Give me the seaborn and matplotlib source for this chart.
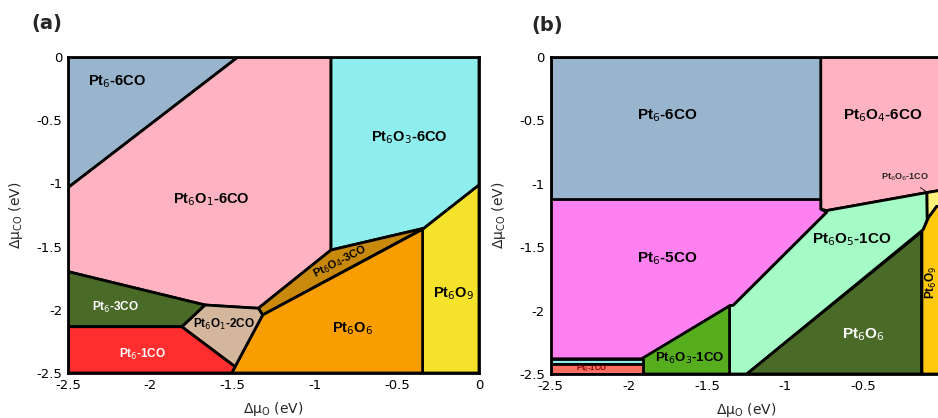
import matplotlib
matplotlib.use("Agg")
import matplotlib.pyplot as plt
import seaborn as sns

sns.set_theme(style="white")
plt.rcParams['font.family'] = ['DejaVu Sans']

# ---------------- data: panel (a) phase regions (x = dmu_O, y = dmu_CO) ----------------
a_names = ["Pt6-6CO", "Pt6O1-6CO", "Pt6O3-6CO", "Pt6O9", "Pt6O4-3CO", "Pt6O6",
           "Pt6O1-2CO", "Pt6-3CO", "Pt6-1CO"]
a_colors = ["#99b4cd", "#ffb3c0", "#8eeeee", "#f4e32a", "#c98a0b", "#f89e00",
            "#d4b69c", "#4a6a28", "#ff2e2e"]
a_polys = [
    [(-2.5, 0), (-1.466, 0), (-2.5, -1.034)],
    [(-1.466, 0), (-0.9, 0), (-0.9, -1.527), (-1.342, -1.988), (-1.667, -1.962), (-2.5, -1.698), (-2.5, -1.034)],
    [(-0.9, 0), (0, 0), (0, -1.013), (-0.335, -1.355), (-0.9, -1.527)],
    [(0, -1.013), (0, -2.5), (-0.343, -2.5), (-0.343, -1.363), (-0.335, -1.355)],
    [(-0.9, -1.527), (-0.335, -1.355), (-1.316, -2.041), (-1.342, -1.988)],
    [(-0.343, -1.363), (-0.343, -2.5), (-1.504, -2.5), (-1.484, -2.45), (-1.316, -2.041)],
    [(-1.667, -1.962), (-1.342, -1.988), (-1.316, -2.041), (-1.484, -2.45), (-1.808, -2.134)],
    [(-2.5, -1.698), (-1.667, -1.962), (-1.808, -2.134), (-2.5, -2.134)],
    [(-2.5, -2.134), (-1.808, -2.134), (-1.484, -2.45), (-1.504, -2.5), (-2.5, -2.5)],
]
a_labels = ["Pt$_6$-6CO", "Pt$_6$O$_1$-6CO", "Pt$_6$O$_3$-6CO", "Pt$_6$O$_9$", "Pt$_6$O$_4$-3CO",
            "Pt$_6$O$_6$", "Pt$_6$O$_1$-2CO", "Pt$_6$-3CO", "Pt$_6$-1CO"]
a_label_xy = [(-2.204, -0.195), (-1.63, -1.131), (-0.424, -0.638), (-0.152, -1.87), (-0.845, -1.62),
              (-0.768, -2.147), (-1.551, -2.112), (-2.214, -1.98), (-2.046, -2.35)]
a_label_size = [10.5, 10.5, 10.5, 10.5, 8, 10.5, 8.5, 8.5, 8.5]
a_label_color = ["black"] * 7 + ["white", "white"]
a_label_rot = [0, 0, 0, 0, 27, 0, 0, 0, 0]

# ---------------- data: panel (b) ----------------
b_names = ["Pt6-6CO", "Pt6O4-6CO", "Pt6-5CO", "Pt6O5-1CO", "Pt6O6-1CO", "Pt6O9", "Pt6O6",
           "Pt6O3-1CO", "strip", "Pt6-1CO"]
b_colors = ["#99b4cd", "#ffb3c0", "#ff80f0", "#a5fbc5", "#fff27a", "#ffc90e", "#4a6a28",
            "#56ae1e", "#8eeeee", "#ff6f61"]
b_polys = [
    [(-2.5, 0), (-0.772, 0), (-0.772, -1.124), (-2.5, -1.124)],
    [(-0.772, 0), (0.05, 0), (0.05, -1.04), (-0.093, -1.069), (-0.734, -1.211), (-0.772, -1.2)],
    [(-2.5, -1.124), (-0.772, -1.124), (-0.772, -1.2), (-0.734, -1.225), (-1.331, -1.958),
     (-1.355, -1.963), (-1.911, -2.38), (-2.5, -2.38)],
    [(-0.734, -1.211), (-0.093, -1.069), (-0.091, -1.281), (-0.116, -1.36), (-1.245, -2.5),
     (-1.355, -2.5), (-1.355, -1.963), (-1.331, -1.958), (-0.734, -1.225)],
    [(-0.093, -1.069), (0.05, -1.04), (0.05, -1.17), (-0.031, -1.179), (-0.084, -1.268), (-0.091, -1.281)],
    [(-0.125, -2.5), (0.05, -2.5), (0.05, -1.17), (-0.031, -1.179), (-0.084, -1.268), (-0.116, -1.36), (-0.125, -1.37)],
    [(-1.245, -2.5), (-0.128, -1.38), (-0.128, -2.5)],
    [(-1.911, -2.375), (-1.355, -1.963), (-1.355, -2.5), (-1.907, -2.5)],
    [(-2.5, -2.38), (-1.911, -2.38), (-1.911, -2.42), (-2.5, -2.42)],
    [(-2.5, -2.42), (-1.911, -2.42), (-1.911, -2.5), (-2.5, -2.5)],
]
b_labels = ["Pt$_6$-6CO", "Pt$_6$O$_4$-6CO", "Pt$_6$-5CO", "Pt$_6$O$_5$-1CO", "Pt$_6$O$_9$",
            "Pt$_6$O$_6$", "Pt$_6$O$_3$-1CO", "Pt$_6$-1CO"]
b_label_xy = [(-1.757, -0.464), (-0.372, -0.464), (-1.757, -1.588), (-0.574, -1.444), (-0.063, -1.78),
              (-0.5, -2.186), (-1.613, -2.377), (-2.237, -2.458)]
b_label_size = [11, 11, 11, 11, 8.5, 11, 9.5, 5.5]
b_label_color = ["black"] * 5 + ["white", "black", "#7a0000"]
b_label_rot = [0, 0, 0, 0, 90, 0, 0, 0]
b_annot_text = "Pt$_6$O$_6$-1CO"
b_annot_text_xy = (-0.234, -0.946)
b_annot_point = (-0.07, -1.085)

x_ticks = [-2.5, -2, -1.5, -1, -0.5, 0]
y_ticks = [0, -0.5, -1, -1.5, -2, -2.5]
tick_labels = ["-2.5", "-2", "-1.5", "-1", "-0.5", "0"]
y_tick_labels = ["0", "-0.5", "-1", "-1.5", "-2", "-2.5"]

fig = plt.figure(figsize=(9.38, 4.18), dpi=100)
ax_a = fig.add_axes([68 / 938, 45 / 418, 411 / 938, 316 / 418])
ax_b = fig.add_axes([550.5 / 938, 44 / 418, 391 / 938, 317 / 418])

label_font = ['Liberation Sans', 'DejaVu Sans']


def draw_panel(ax, polys, colors, labels, label_xy, sizes, lcolors, rots):
    for poly, col in zip(polys, colors):
        xs = [p[0] for p in poly]
        ys = [p[1] for p in poly]
        ax.fill(xs, ys, facecolor=col, edgecolor="black", linewidth=2, joinstyle="round", zorder=2)
    for lab, (x, y), s, c, r in zip(labels, label_xy, sizes, lcolors, rots):
        ax.text(x, y, lab, fontsize=s, color=c, rotation=r, ha="center", va="center",
                fontweight="bold", family=label_font, zorder=5)
    ax.set_xlim(-2.5, 0)
    ax.set_ylim(-2.5, 0)
    ax.set_xticks(x_ticks)
    ax.set_xticklabels(tick_labels)
    ax.set_yticks(y_ticks)
    ax.set_yticklabels(y_tick_labels)
    ax.tick_params(axis="both", labelsize=9.5, length=0, pad=4, colors="black")
    for sp in ax.spines.values():
        sp.set_linewidth(2)
        sp.set_color("black")
        sp.set_zorder(6)
    ax.set_xlabel("Δμ$_{\\rm O}$ (eV)", fontsize=10, labelpad=6)
    ax.set_ylabel("Δμ$_{\\rm CO}$ (eV)", fontsize=10, labelpad=8)


draw_panel(ax_a, a_polys, a_colors, a_labels, a_label_xy, a_label_size, a_label_color, a_label_rot)
draw_panel(ax_b, b_polys, b_colors, b_labels, b_label_xy, b_label_size, b_label_color, b_label_rot)

ax_b.annotate(b_annot_text, xy=b_annot_point, xytext=b_annot_text_xy, fontsize=6.5,
              ha="center", va="center", family=label_font, fontweight="bold",
              arrowprops=dict(arrowstyle="-", color="black", lw=0.6), zorder=7)

fig.text(46.7 / 938, 1 - 23.3 / 418, "(a)", fontsize=14, fontweight="bold", ha="center", va="center")
fig.text(546.7 / 938, 1 - 25 / 418, "(b)", fontsize=14, fontweight="bold", ha="center", va="center")

fig.savefig("out.png", dpi=100)
